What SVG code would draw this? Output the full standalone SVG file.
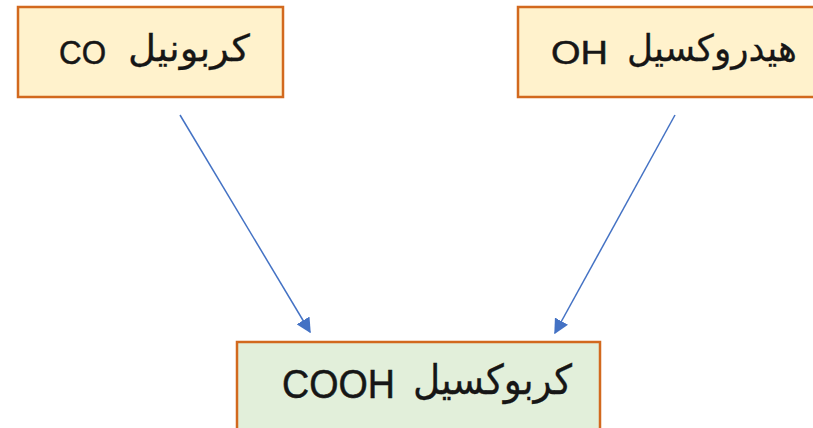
<svg xmlns="http://www.w3.org/2000/svg" width="813" height="428" viewBox="0 0 813 428">
<defs>
<style>
.box{stroke:#D2691E;stroke-width:2.5}
.top{fill:#FFF2CC}
.bot{fill:#E2EFDA}
.lat{font-family:"Liberation Sans",Arial,sans-serif;fill:#161616;stroke:#161616;stroke-width:0.5}
.ar{font-family:"DejaVu Sans",sans-serif;fill:#161616;stroke:#161616;stroke-width:0.3}
.conn{stroke:#4472C4;stroke-width:1.5;fill:none;marker-end:url(#arr)}
</style>
<marker id="arr" viewBox="0 0 10 10" refX="9" refY="5" markerWidth="10" markerHeight="10" markerUnits="strokeWidth" orient="auto">
<path d="M0,0 L10,5 L0,10 z" fill="#4472C4"/>
</marker>
</defs>
<rect width="813" height="428" fill="#fff"/>
<g id="carbonyl">
<rect class="box top" x="18" y="7" width="265" height="90"/>
<text class="lat" x="59" y="64" font-size="34" textLength="47" lengthAdjust="spacingAndGlyphs">CO</text>
<text class="ar" x="250" y="61" font-size="37" direction="rtl" unicode-bidi="embed" textLength="122" lengthAdjust="spacingAndGlyphs">كربونيل</text>
</g>
<g id="hydroxyl">
<rect class="box top" x="518" y="7" width="300" height="90"/>
<text class="lat" x="551" y="64" font-size="34" textLength="57" lengthAdjust="spacingAndGlyphs">OH</text>
<text class="ar" x="797" y="61" font-size="37" direction="rtl" unicode-bidi="embed" textLength="170" lengthAdjust="spacingAndGlyphs">هيدروكسيل</text>
</g>
<g id="carboxyl">
<rect class="box bot" x="237" y="342" width="363" height="100"/>
<text class="lat" x="282" y="398" font-size="40" textLength="113" lengthAdjust="spacingAndGlyphs">COOH</text>
<text class="ar" x="572" y="394" font-size="41" direction="rtl" unicode-bidi="embed" textLength="159" lengthAdjust="spacingAndGlyphs">كربوكسيل</text>
</g>
<g id="connectors">
<line class="conn" x1="180" y1="115" x2="310" y2="332"/>
<line class="conn" x1="675" y1="115" x2="555" y2="333"/>
</g>
</svg>
